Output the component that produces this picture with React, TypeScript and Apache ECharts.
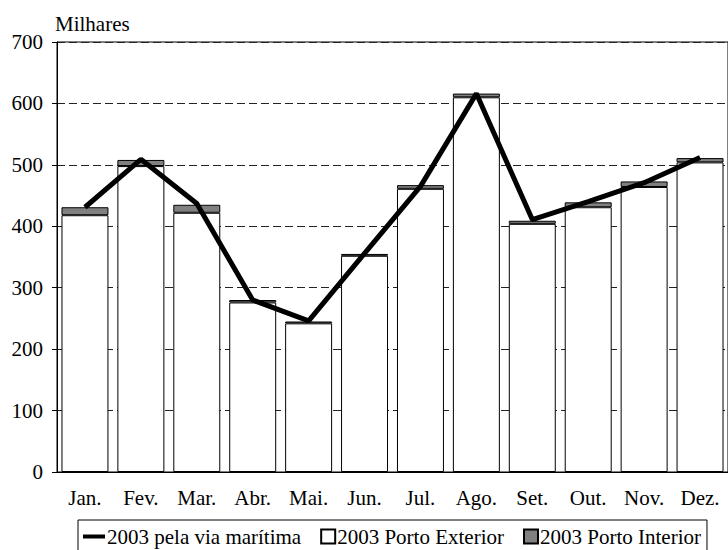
import React, { useEffect, useRef } from "react";
import * as echarts from "echarts";

const categories = ["Jan.", "Fev.", "Mar.", "Abr.", "Mai.", "Jun.", "Jul.", "Ago.", "Set.", "Out.", "Nov.", "Dez."];
const maritima = [431, 509, 437, 280, 246, 356, 465, 616, 411, 440, 471, 512];
const portoExterior = [418, 498, 422, 276, 242, 352, 461, 610, 404, 431, 464, 504];
const portoInterior = [13, 10, 13, 4, 3, 3, 6, 6, 5, 8, 9, 7];
const yTicks = { min: 0, max: 700, interval: 100 };

const FONT = "Liberation Serif";
const FS = 21;

// legend icons: invisible moveTo points fix the 22x14 bounding box
const LINE_ICON = "path://M0 0M22 14M0 5h22v4h-22z";
const SQUARE_ICON = "path://M0 0M22 14M8 0h14v14h-14z";

export default function App() {
  const ref = useRef<HTMLDivElement>(null);
  useEffect(() => {
    document.body.style.margin = "0";
    const chart = echarts.init(ref.current!, null, { renderer: "svg" });
    chart.setOption({
      animation: false,
      backgroundColor: "#fff",
      textStyle: { fontFamily: FONT, color: "#000" },
      grid: {
        left: 57,
        top: 42,
        width: 672,
        height: 430,
        show: true,
        borderColor: "#000",
        borderWidth: 1,
        backgroundColor: "transparent",
      },
      legend: {
        left: 78,
        top: 520,
        padding: [6, 6, 12, 5],
        borderColor: "#000",
        borderWidth: 1,
        itemGap: 11,
        itemWidth: 22,
        itemHeight: 14,
        symbolKeepAspect: false,
        textStyle: { fontFamily: FONT, fontSize: FS, color: "#000", padding: [0, 0, 0, -3] },
        data: [
          { name: "2003 pela via marítima", icon: LINE_ICON },
          { name: "2003 Porto Exterior", icon: SQUARE_ICON },
          { name: "2003 Porto Interior", icon: SQUARE_ICON },
        ],
      },
      xAxis: {
        type: "category",
        data: categories,
        axisLine: { lineStyle: { color: "#000", width: 1 } },
        axisTick: { show: false },
        axisLabel: { fontFamily: FONT, fontSize: FS, color: "#000", margin: 15 },
        splitLine: { show: false },
      },
      yAxis: {
        type: "value",
        min: yTicks.min,
        max: yTicks.max,
        interval: yTicks.interval,
        name: "Milhares",
        nameLocation: "end",
        nameGap: 18,
        nameTextStyle: { fontFamily: FONT, fontSize: FS, color: "#000", align: "left", verticalAlign: "middle", padding: [0, 0, 0, -2] },
        axisLine: { show: true, lineStyle: { color: "#000", width: 1 } },
        axisTick: { show: true, length: 5, lineStyle: { color: "#000" } },
        axisLabel: { fontFamily: FONT, fontSize: FS, color: "#000", margin: 14 },
        splitLine: { show: true, lineStyle: { color: "#222", width: 1, type: [8, 4] } },
      },
      series: [
        {
          name: "2003 Porto Exterior",
          type: "bar",
          stack: "porto",
          data: portoExterior,
          barCategoryGap: "16%",
          itemStyle: { color: "#fff", borderColor: "#000", borderWidth: 1 },
        },
        {
          name: "2003 Porto Interior",
          type: "bar",
          stack: "porto",
          data: portoInterior,
          itemStyle: { color: "#808080", borderColor: "#000", borderWidth: 1 },
        },
        {
          name: "2003 pela via marítima",
          type: "line",
          data: maritima,
          symbol: "none",
          showSymbol: false,
          lineStyle: { color: "#000", width: 5 },
          itemStyle: { color: "#000" },
          z: 5,
        },
      ],
    });
    return () => chart.dispose();
  }, []);
  return <div ref={ref} style={{ width: 728, height: 550 }} />;
}
